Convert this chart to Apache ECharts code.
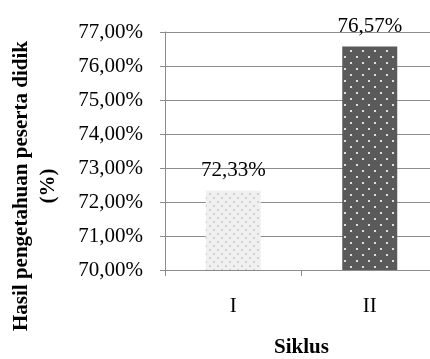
<!DOCTYPE html>
<html><head><meta charset="utf-8">
<script src="https://cdn.jsdelivr.net/npm/echarts@6/dist/echarts.min.js"></script>
<style>html,body{margin:0;padding:0;background:#fff}#c{width:430px;height:359px}</style>
</head><body><div id="c"></div>
<script>
var categories = ['I', 'II'];
var values = [72.33, 76.57];
var yTicks = [70, 71, 72, 73, 74, 75, 76, 77];

function pattern(bg, dot, step, r) {
  var c = document.createElement('canvas');
  c.width = step * 2; c.height = step * 2;
  var g = c.getContext('2d');
  g.fillStyle = bg; g.fillRect(0, 0, c.width, c.height);
  g.fillStyle = dot;
  [[step / 2, step / 2], [step * 1.5, step * 1.5]].forEach(function (p) {
    g.beginPath(); g.arc(p[0], p[1], r, 0, Math.PI * 2); g.fill();
  });
  return { image: c, repeat: 'repeat' };
}
var fills = [pattern('#f0f0f0', '#c8c8c8', 4, 1), pattern('#5a5a5a', '#ffffff', 6, 1.1)];
var fmt = function (v) { return v.toFixed(2).replace('.', ',') + '%'; };
var font = '"Liberation Serif", "Times New Roman", serif';

var chart = echarts.init(document.getElementById('c'));
chart.setOption({
  animation: false,
  grid: { left: 165, right: -8, top: 32, bottom: 89, containLabel: false, outerBoundsMode: 'none' },
  xAxis: {
    type: 'category', data: categories,
    axisLine: { lineStyle: { color: '#8c8c8c', width: 1 } },
    axisTick: { show: true, length: 6, lineStyle: { color: '#8c8c8c' } },
    axisLabel: { color: '#000', fontFamily: font, fontSize: 21, margin: 26 },
    name: 'Siklus', nameLocation: 'middle', nameGap: 67,
    nameTextStyle: { color: '#000', fontFamily: font, fontSize: 21, fontWeight: 'bold' }
  },
  yAxis: {
    type: 'value', min: yTicks[0], max: yTicks[yTicks.length - 1], interval: 1,
    axisLine: { show: true, lineStyle: { color: '#8c8c8c', width: 1 } },
    axisTick: { show: true, length: 5, lineStyle: { color: '#8c8c8c' } },
    splitLine: { lineStyle: { color: '#8c8c8c', width: 1 } },
    axisLabel: { color: '#000', fontFamily: font, fontSize: 21, margin: 22, formatter: fmt }
  },
  graphic: [
    { type: 'text', x: 22, y: 186, rotation: Math.PI / 2,
      style: { text: 'Hasil pengetahuan peserta didik', font: 'bold 21px ' + font, fill: '#000', textAlign: 'center', textVerticalAlign: 'middle' } },
    { type: 'text', x: 49, y: 186, rotation: Math.PI / 2,
      style: { text: '(%)', font: 'bold 21px ' + font, fill: '#000', textAlign: 'center', textVerticalAlign: 'middle' } }
  ],
  series: [{
    type: 'bar', barWidth: 55,
    data: values.map(function (v, i) { return { value: v, itemStyle: { color: fills[i] } }; }),
    label: { show: true, position: 'top', distance: 10, color: '#000', fontFamily: font, fontSize: 21, formatter: function (p) { return fmt(p.value); } }
  }]
});
</script></body></html>
